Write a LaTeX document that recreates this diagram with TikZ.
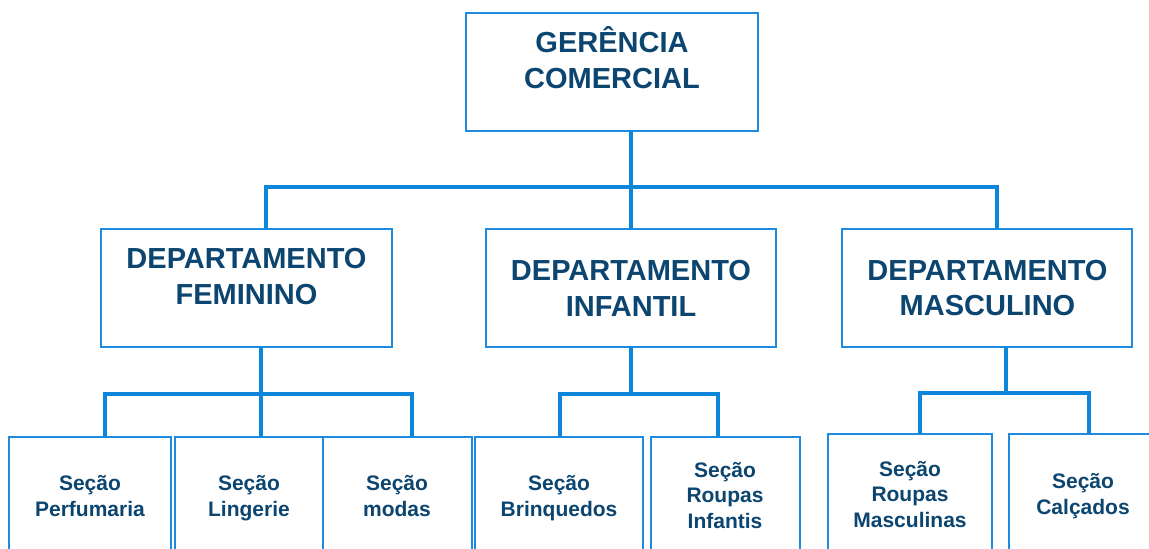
\documentclass[tikz,border=0pt]{standalone}
\usepackage{fontspec}
\setmainfont{Liberation Sans}
\definecolor{boxc}{HTML}{1E8BE0}
\definecolor{connc}{HTML}{0C86DB}
\definecolor{txtc}{HTML}{0B4570}
\begin{document}
\begin{tikzpicture}[x=1pt,y=-1pt,
  box/.style={draw=boxc,line width=2pt,inner sep=0pt,outer sep=0pt,fill=white},
  conn/.style={draw=connc,line width=3.6pt,line join=miter},
  big/.style={text=txtc,font=\fontsize{29}{35.5}\selectfont\bfseries,align=center,inner sep=0pt,text height=20.8pt,text depth=0pt},
  small/.style={text=txtc,font=\fontsize{21}{25.7}\selectfont\bfseries,align=center,inner sep=0pt,text height=15pt,text depth=0pt}]
\useasboundingbox (0,0) rectangle (1149,549);
\clip (0,0) rectangle (1149,549);
% boxes
\node[box,minimum width=292pt,minimum height=118pt] (g) at (612,72) {};
\node[box,minimum width=291pt,minimum height=118pt] (fem) at (246.5,288) {};
\node[box,minimum width=290pt,minimum height=118pt] (inf) at (631,288) {};
\node[box,minimum width=290pt,minimum height=118pt] (mas) at (987,288) {};
\node[box,minimum width=162pt,minimum height=123pt] (s1) at (90,498.5) {};
\node[box,minimum width=148pt,minimum height=123pt] (s2) at (249,498.5) {};
\node[box,minimum width=149pt,minimum height=123pt] (s3) at (397.5,498.5) {};
\node[box,minimum width=168pt,minimum height=123pt] (s4) at (559,498.5) {};
\node[box,minimum width=149pt,minimum height=123pt] (s5) at (725.5,498.5) {};
\node[box,minimum width=164pt,minimum height=126pt] (s6) at (910,497) {};
\node[box,minimum width=176pt,minimum height=126pt] (s7) at (1097,497) {};
% texts (node centre = cap centre of the last line)
\node[big] (gt) at (612,78) {GERÊNCIA\\COMERCIAL};
\node[big] (femt) at (246.5,293.7) {DEPARTAMENTO\\FEMININO};
\node[big] (inft) at (631,306) {DEPARTAMENTO\\INFANTIL};
\node[big] (mast) at (987.5,305.3) {DEPARTAMENTO\\MASCULINO};
\node[small] (s1t) at (90,508.5) {Seção\\Perfumaria};
\node[small] (s2t) at (249,508.5) {Seção\\Lingerie};
\node[small] (s3t) at (397,508.5) {Seção\\modas};
\node[small] (s4t) at (559,508.5) {Seção\\Brinquedos};
\node[small] (s5t) at (725,521) {Seção\\Roupas\\Infantis};
\node[small] (s6t) at (910,520) {Seção\\Roupas\\Masculinas};
\node[small] (s7t) at (1083,507) {Seção\\Calçados};
% connectors
\coordinate (hL) at (266,187);
\coordinate (hR) at (997,187);
\draw[conn] (g.south -| inf.north) -- (inf.north);
\draw[conn] (hL |- fem.north) -- (hL) -- (hR) -- (hR |- mas.north);
\coordinate (fA) at (105,394);
\coordinate (fM) at (261,394);
\coordinate (fB) at (412,394);
\draw[conn] (fM |- fem.south) -- (fM |- s2.north);
\draw[conn] (fA |- s1.north) -- (fA) -- (fB) -- (fB |- s3.north);
\coordinate (iA) at (560,394);
\coordinate (iB) at (718,394);
\draw[conn] (inf.south) -- (inf.south |- iA);
\draw[conn] (iA |- s4.north) -- (iA) -- (iB) -- (iB |- s5.north);
\coordinate (mA) at (920,393);
\coordinate (mM) at (1006,393);
\coordinate (mB) at (1089,393);
\draw[conn] (mM |- mas.south) -- (mM);
\draw[conn] (mA |- s6.north) -- (mA) -- (mB) -- (mB |- s7.north);
\end{tikzpicture}
\end{document}
